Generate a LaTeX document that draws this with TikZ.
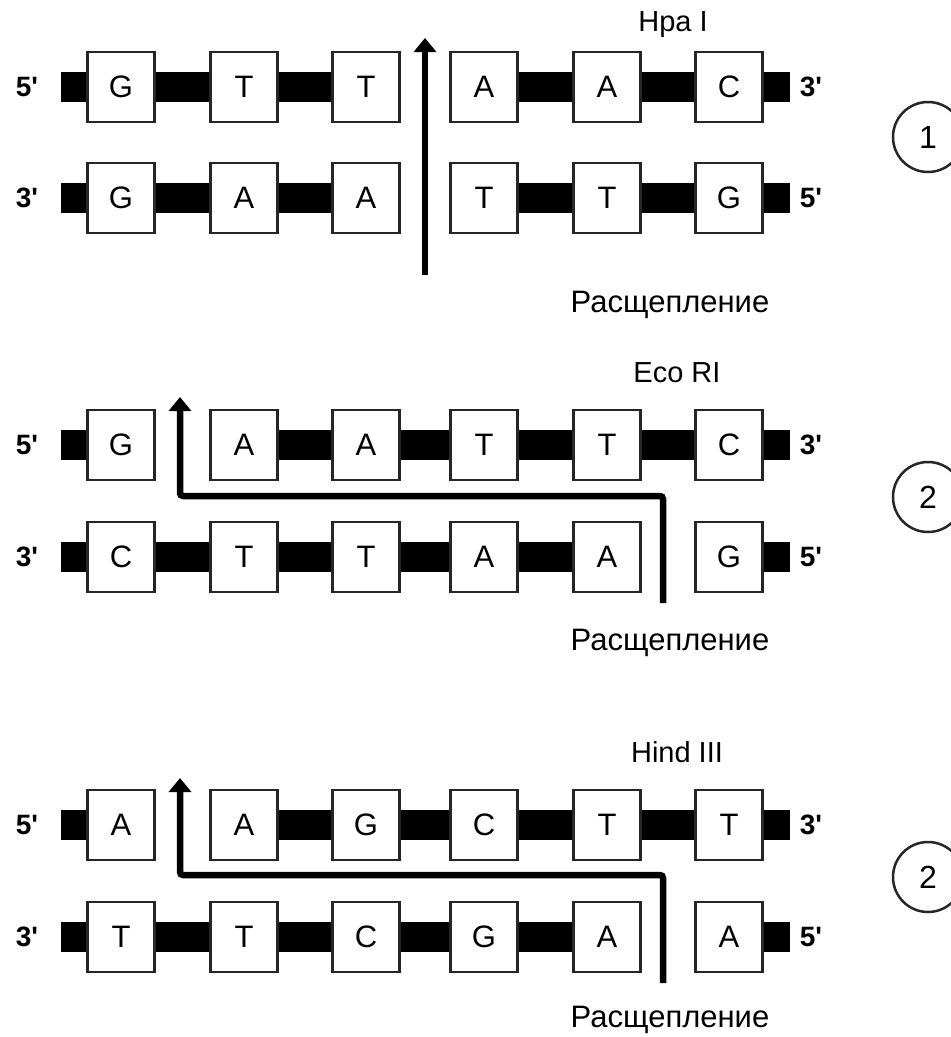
\documentclass[tikz,border=0pt]{standalone}
\usepackage{fontspec}
\setmainfont{Liberation Sans}[Ligatures=TeXOff]
\usetikzlibrary{arrows.meta,backgrounds}
\begin{document}
\begin{tikzpicture}[x=1pt,y=-1pt,
  base/.style={draw=black!85, line width=2.6pt, fill=white,
    minimum width=67pt, minimum height=70pt, inner sep=0pt,
    font=\fontsize{31}{31}\selectfont},
  bar/.style={line width=30pt, line cap=butt, draw=black},
  endlab/.style={font=\fontsize{28}{28}\selectfont\bfseries, inner sep=0pt},
  enzyme/.style={font=\fontsize{29}{29}\selectfont, inner sep=0pt},
  cleave/.style={font=\fontsize{31}{31}\selectfont, inner sep=0pt},
  cutline/.style={line width=6.5pt, rounded corners=3pt,
    -{Triangle[width=22pt,length=14pt]}},
  tag/.style={circle, draw=black!85, line width=2.5pt, minimum size=70pt,
    inner sep=0pt, font=\fontsize{32}{32}\selectfont}]
\useasboundingbox (0,0) rectangle (951,1037);

% three duplexes: row / top y / bottom y / top strand / bottom strand
\foreach \r/\yt/\yb/\tseq/\bseq in {
    1/87/198/{G,T,T,A,A,C}/{G,A,A,T,T,G},
    2/445/557/{G,A,A,T,T,C}/{C,T,T,A,A,G},
    3/825/937/{A,A,G,C,T,T}/{T,T,C,G,A,A}} {
  \foreach \l [count=\i] in \tseq {
    \pgfmathsetmacro\bx{{121,244,366,484,607,729}[\i-1]}
    \node[base] (r\r t\i) at (\bx,\yt) {\l};
  }
  \foreach \l [count=\i] in \bseq {
    \pgfmathsetmacro\bx{{121,244,366,484,607,729}[\i-1]}
    \node[base] (r\r b\i) at (\bx,\yb) {\l};
  }
  \coordinate (r\r tL) at (61,\yt);
  \coordinate (r\r tR) at (790,\yt);
  \coordinate (r\r bL) at (61,\yb);
  \coordinate (r\r bR) at (790,\yb);
  \node[endlab] (r\r t5p) at (27,\yt) {5'};
  \node[endlab] (r\r t3p) at (811,\yt) {3'};
  \node[endlab] (r\r b3p) at (27,\yb) {3'};
  \node[endlab] (r\r b5p) at (811,\yb) {5'};
  \begin{scope}[on background layer]
    \draw[bar] (r\r tL) -- (r\r t1.center);
    \draw[bar] (r\r t6.center) -- (r\r tR);
    \draw[bar] (r\r bL) -- (r\r b1.center);
    \draw[bar] (r\r b6.center) -- (r\r bR);
  \end{scope}
}

% backbone links between neighbouring bases (gaps at the cut sites)
\begin{scope}[on background layer]
  \foreach \a/\b in {1/2,2/3,4/5,5/6} {
    \draw[bar] (r1t\a.center) -- (r1t\b.center);
    \draw[bar] (r1b\a.center) -- (r1b\b.center);
  }
  \foreach \r in {2,3} {
    \foreach \a/\b in {2/3,3/4,4/5,5/6}
      \draw[bar] (r\r t\a.center) -- (r\r t\b.center);
    \foreach \a/\b in {1/2,2/3,3/4,4/5}
      \draw[bar] (r\r b\a.center) -- (r\r b\b.center);
  }
\end{scope}

% cleavage paths
\coordinate (c1s) at (425,275);
\coordinate (c1e) at (425,38);
\draw[cutline] (c1s) -- (c1e);

\coordinate (c2s) at (663,603);
\coordinate (c2a) at (663,496);
\coordinate (c2b) at (180,496);
\coordinate (c2e) at (180,397);
\draw[cutline] (c2s) -- (c2a) -- (c2b) -- (c2e);

\coordinate (c3s) at (663,983);
\coordinate (c3a) at (663,875);
\coordinate (c3b) at (180,875);
\coordinate (c3e) at (180,778);
\draw[cutline] (c3s) -- (c3a) -- (c3b) -- (c3e);

% enzyme names and captions
\node[enzyme] (e1) at (673,25) {Hpa I};
\node[enzyme] (e2) at (677,373) {Eco RI};
\node[enzyme] (e3) at (677,752) {Hind III};
\node[cleave] (s1) at (670,305) {Расщепление};
\node[cleave] (s2) at (670,643) {Расщепление};
\node[cleave] (s3) at (670,1020) {Расщепление};

% end types
\node[tag] (n1) at (928,137) {1};
\node[tag] (n2) at (928,497) {2};
\node[tag] (n3) at (928,877) {2};
\end{tikzpicture}
\end{document}
